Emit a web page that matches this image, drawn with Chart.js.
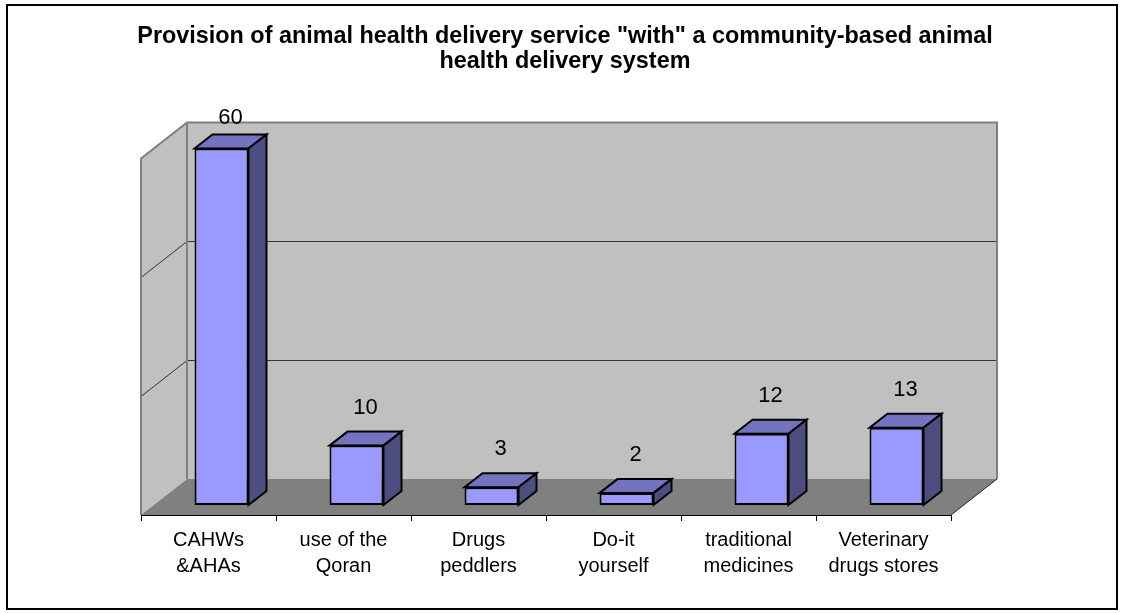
<!DOCTYPE html>
<html>
<head>
<meta charset="utf-8">
<title>Animal health delivery</title>
<script src="https://cdn.jsdelivr.net/npm/chart.js@4.4.1/dist/chart.umd.min.js"></script>
<style>
  body { margin: 0; background: #fff; }
  #wrap { width: 1125px; height: 613px; position: relative; }
</style>
</head>
<body>
<div id="wrap"><canvas id="healthChart"></canvas></div>
<script>
// data
var categories = [
  ["CAHWs", "&AHAs"],
  ["use of the", "Qoran"],
  ["Drugs", "peddlers"],
  ["Do-it", "yourself"],
  ["traditional", "medicines"],
  ["Veterinary", "drugs stores"]
];
var counts = [60, 10, 3, 2, 12, 13];
var yTicks = [0, 20, 40, 60];

var FONT = "'Liberation Sans', Arial, sans-serif";

// 3d look: depth of the walls and of the bars
var wallDX = 46, wallDY = -36;
var barDX = 13, barDY = -10;      // bar front sits a bit behind the floor edge
var barDepthX = 18, barDepthY = -14;

function poly(ctx, pts, fill, stroke, lw) {
  ctx.beginPath();
  ctx.moveTo(pts[0][0], pts[0][1]);
  for (var i = 1; i < pts.length; i++) ctx.lineTo(pts[i][0], pts[i][1]);
  ctx.closePath();
  if (fill) { ctx.fillStyle = fill; ctx.fill(); }
  if (stroke) { ctx.strokeStyle = stroke; ctx.lineWidth = lw || 1; ctx.stroke(); }
}

var box3d = {
  id: 'box3d',
  afterLayout: function(chart) {
    // title is centred over the whole 3d box, walls included
    var t = chart.titleBlock;
    if (t) {
      t.left = 130;
      t.right = 1000;
      t.width = t.right - t.left;
    }
  },
  beforeDraw: function(chart) {
    var ctx = chart.ctx, a = chart.chartArea, y = chart.scales.y;
    var top = y.getPixelForValue(yTicks[yTicks.length - 1]);
    var bot = y.getPixelForValue(0);
    ctx.save();
    // outer frame
    ctx.strokeStyle = '#000';
    ctx.lineWidth = 2;
    ctx.strokeRect(7, 5, 1110, 604);
    // back wall
    poly(ctx, [[a.left + wallDX, top + wallDY], [a.right + wallDX, top + wallDY],
               [a.right + wallDX, bot + wallDY], [a.left + wallDX, bot + wallDY]], '#C0C0C0');
    // side wall
    poly(ctx, [[a.left, top], [a.left + wallDX, top + wallDY],
               [a.left + wallDX, bot + wallDY], [a.left, bot]], '#C0C0C0');
    // gridlines
    ctx.strokeStyle = '#333';
    ctx.lineWidth = 1;
    y.ticks.forEach(function(t) {
      if (t.value <= 0 || t.value >= yTicks[yTicks.length - 1]) return;
      var p = Math.round(y.getPixelForValue(t.value)) + 0.5;
      ctx.beginPath();
      ctx.moveTo(a.left, p);
      ctx.lineTo(a.left + wallDX, p + wallDY);
      ctx.lineTo(a.right + wallDX, p + wallDY);
      ctx.stroke();
    });
    // wall edges
    ctx.strokeStyle = '#808080';
    ctx.lineWidth = 2;
    ctx.beginPath();
    ctx.moveTo(a.left, bot);
    ctx.lineTo(a.left, top);
    ctx.lineTo(a.left + wallDX, top + wallDY);
    ctx.lineTo(a.right + wallDX, top + wallDY);
    ctx.lineTo(a.right + wallDX, bot + wallDY);
    ctx.moveTo(a.left + wallDX, top + wallDY);
    ctx.lineTo(a.left + wallDX, bot + wallDY);
    ctx.stroke();
    // floor
    poly(ctx, [[a.left, bot], [a.right, bot], [a.right + wallDX, bot + wallDY],
               [a.left + wallDX, bot + wallDY]], '#808080');
    ctx.strokeStyle = '#222';
    ctx.lineWidth = 1;
    ctx.beginPath();
    ctx.moveTo(a.right, bot);
    ctx.lineTo(a.right + wallDX, bot + wallDY);
    ctx.stroke();
    ctx.restore();
  },
  beforeDatasetsDraw: function(chart) {
    var ctx = chart.ctx;
    ctx.save();
    ctx.translate(barDX, barDY);
    chart.getDatasetMeta(0).data.forEach(function(el) {
      var l = el.x - el.width / 2, r = el.x + el.width / 2;
      // top face
      poly(ctx, [[l, el.y], [r, el.y], [r + barDepthX, el.y + barDepthY], [l + barDepthX, el.y + barDepthY]],
           '#7373BF', '#000', 2);
      // side face
      poly(ctx, [[r, el.y], [r + barDepthX, el.y + barDepthY], [r + barDepthX, el.base + barDepthY], [r, el.base]],
           '#4D4D80', '#000', 2);
    });
  },
  afterDatasetsDraw: function(chart) {
    var ctx = chart.ctx;
    ctx.restore();
    ctx.save();
    ctx.fillStyle = '#000';
    ctx.font = '22px ' + FONT;
    ctx.textAlign = 'center';
    ctx.textBaseline = 'middle';
    chart.getDatasetMeta(0).data.forEach(function(el, i) {
      var cx = el.x + barDX + barDepthX / 2;
      var cy = el.y + barDY + barDepthY - 24;
      if (cy < 118) cy = 118;
      ctx.fillText(String(counts[i]), cx, cy);
    });
    ctx.restore();
  }
};

var ctx = document.getElementById('healthChart').getContext('2d');
var healthChart = new Chart(ctx, {
  type: 'bar',
  data: {
    labels: categories,
    datasets: [{
      data: counts,
      backgroundColor: '#9999FF',
      borderColor: '#000',
      borderWidth: 2,
      borderSkipped: false,
      barPercentage: 0.4,
      categoryPercentage: 1,
      clip: false
    }]
  },
  options: {
    responsive: true,
    maintainAspectRatio: false,
    animation: false,
    layout: { padding: { left: 141, right: 174, top: 0, bottom: 28 } },
    plugins: {
      legend: { display: false },
      tooltip: { enabled: false },
      title: {
        display: true,
        text: ['Provision of animal health delivery service "with" a community-based animal',
               'health delivery system'],
        color: '#000',
        font: { family: FONT, size: 23.4, weight: 'bold', lineHeight: 1.08 },
        padding: { top: 24, bottom: 84 }
      }
    },
    scales: {
      x: {
        grid: { drawOnChartArea: false, drawTicks: true, tickLength: 6, color: '#000', offset: true },
        border: { display: true, color: '#000', width: 1 },
        ticks: { color: '#000', padding: 6, font: { family: FONT, size: 20, lineHeight: 1.3 } }
      },
      y: {
        display: false,
        min: 0,
        max: 60,
        ticks: { stepSize: 20 }
      }
    }
  },
  plugins: [box3d]
});
</script>
</body>
</html>
